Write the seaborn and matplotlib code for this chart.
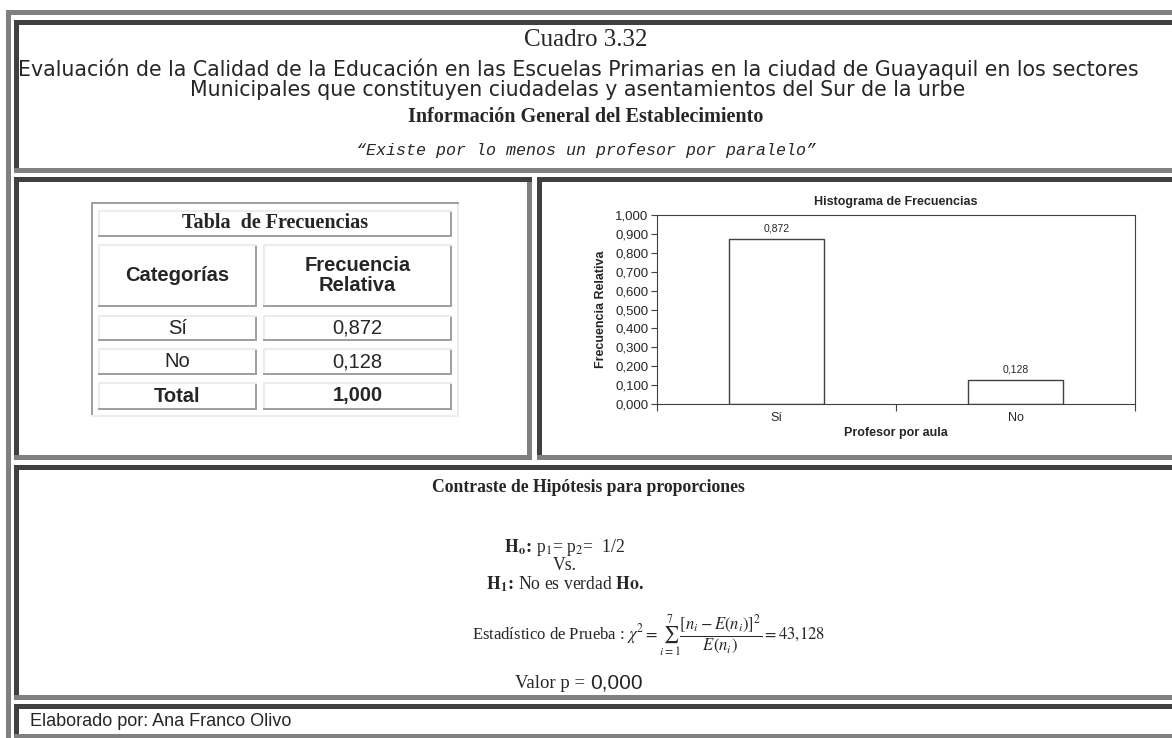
import matplotlib
matplotlib.use('Agg')
import matplotlib.pyplot as plt
from matplotlib.patches import Rectangle
from matplotlib.ticker import MultipleLocator, FuncFormatter
import seaborn as sns
import pandas as pd

# datos del cuadro
categorias = ['Sí', 'No']
frecuencia_relativa = [0.872, 0.128]
total = 1.000
estadistico = 43.128
valor_p = 0.000

titulo = 'Cuadro 3.32'
subtitulo_1 = ('Evaluación de la Calidad de la Educación en las Escuelas Primarias '
               'en la ciudad de Guayaquil en los sectores')
subtitulo_2 = 'Municipales que constituyen ciudadelas y asentamientos del Sur de la urbe'
seccion = 'Información General del Establecimiento'
pregunta = '“Existe por lo menos un profesor por paralelo”'
autor = 'Elaborado por: Ana Franco Olivo'


def coma(v):
    return f'{v:.3f}'.replace('.', ',')


W, H = 1172, 738
oscuro = '#404040'
gris = '#808080'

sns.set_theme(style='white')
plt.rcParams['font.family'] = ['Liberation Sans', 'DejaVu Sans']
plt.rcParams['mathtext.fontset'] = 'stix'

fig = plt.figure(figsize=(W / 100, H / 100), dpi=100)
fig.patch.set_facecolor('white')

# capa de fondo en pixeles (origen arriba a la izquierda)
bg = fig.add_axes([0, 0, 1, 1])
bg.set_xlim(0, W)
bg.set_ylim(H, 0)
bg.axis('off')


def rect(x0, y0, x1, y1, c):
    bg.add_patch(Rectangle((x0, y0), x1 - x0, y1 - y0, color=c, lw=0))


def celda(x0, y0, x1, y1, b=5, arriba=oscuro, abajo=gris):
    rect(x0, y0, x0 + b, y1, arriba)
    rect(x1 - b, y0, x1, y1, abajo)
    rect(x0, y0, x1, y0 + b, arriba)
    rect(x0, y1 - b, x1, y1, abajo)


# marco exterior
rect(6, 10, W + 10, 15, gris)
rect(6, 10, 11, H + 10, gris)

# celdas
celda(14, 20, W + 10, 173)
celda(14, 177, 532, 460)
celda(537, 177, W + 10, 460)
celda(14, 465, W + 10, 700)
celda(14, 704, W + 10, H + 1)

# encabezado
bg.text(586, 40, titulo, ha='center', va='center', fontsize=18, family='Liberation Serif')
s1 = bg.text(578, 69, subtitulo_1, ha='center', va='center', fontsize=13, family='DejaVu Sans')
s2 = bg.text(578, 90, subtitulo_2, ha='center', va='center', fontsize=13, family='DejaVu Sans')
# ajustar el tamaño para que la primera linea ocupe todo el ancho
r = fig.canvas.get_renderer()
k = 1123 / s1.get_window_extent(r).width
s1.set_fontsize(13 * k)
s2.set_fontsize(13 * k)
bg.text(586, 117, seccion, ha='center', va='center', fontsize=14.5,
        family='Liberation Serif', weight='bold')
bg.text(586, 150, pregunta, ha='center', va='center', fontsize=12,
        family='Liberation Mono', style='italic')

# tabla de frecuencias
claro = '#ececec'
medio = '#a0a0a0'
celda(91, 202, 459, 417, b=2, arriba=medio, abajo=claro)


def celda_tabla(x0, y0, x1, y1, texto, **kw):
    celda(x0, y0, x1, y1, b=2, arriba=claro, abajo=medio)
    bg.text((x0 + x1) / 2, (y0 + y1) / 2, texto, ha='center', va='center', **kw)


filas = [['Categorías', 'Frecuencia\nRelativa']]
filas += [[c, coma(v)] for c, v in zip(categorias, frecuencia_relativa)]
filas += [['Total', coma(total)]]
alturas = [(244, 307), (315, 341), (348, 375), (382, 410)]
negrita = [True, False, False, True]

celda_tabla(98, 210, 452, 237, 'Tabla  de Frecuencias', fontsize=14.5,
            family='Liberation Serif', weight='bold')
for fila, (y0, y1), nb in zip(filas, alturas, negrita):
    w = 'bold' if nb else 'normal'
    celda_tabla(98, y0, 257, y1, fila[0], fontsize=14.5, weight=w, linespacing=1.1)
    celda_tabla(263, y0, 452, y1, fila[1], fontsize=14.5, weight=w, linespacing=1.1)

# histograma
ax = fig.add_axes([657 / W, 1 - 404 / H, (1135 - 657) / W, (404 - 215) / H])
df = pd.DataFrame({'Profesor por aula': categorias,
                   'Frecuencia Relativa': frecuencia_relativa})
sns.barplot(data=df, x='Profesor por aula', y='Frecuencia Relativa', ax=ax,
            width=0.4, color='white', saturation=1, edgecolor=oscuro, linewidth=1)
ax.bar_label(ax.containers[0], labels=[coma(v) for v in frecuencia_relativa],
             padding=4, fontsize=7.5)
ax.set_xlim(-0.5, 1.5)
ax.set_ylim(0, 1)
ax.yaxis.set_major_locator(MultipleLocator(0.1))
ax.yaxis.set_major_formatter(FuncFormatter(lambda v, p: coma(v)))
ax.set_xticks([-0.5, 0.5, 1.5])
ax.set_xticklabels([])
ax.set_xticks([0, 1], categorias, minor=True)
ax.tick_params(axis='x', which='major', direction='out', length=5, width=0.8,
               color=oscuro, bottom=True)
ax.tick_params(axis='x', which='minor', length=0, labelsize=9, pad=6)
ax.tick_params(axis='y', direction='out', length=4, width=0.8, color=oscuro,
               left=True, labelsize=9.5, pad=2)
for s in ax.spines.values():
    s.set_visible(True)
    s.set_color(oscuro)
    s.set_linewidth(0.8)
ax.set_xlabel('Profesor por aula', fontsize=9, weight='bold', labelpad=2)
ax.set_ylabel('Frecuencia Relativa', fontsize=9, weight='bold', labelpad=6)
ax.set_title('Histograma de Frecuencias', fontsize=9, weight='bold', pad=7)

# contraste de hipotesis
serif = dict(family='Liberation Serif', fontsize=12.7)
bg.text(588, 488, 'Contraste de Hipótesis para proporciones', ha='center', va='center',
        weight='bold', **serif)
bg.text(565, 547, r'$\mathbf{H_o}\!\mathbf{:}\!$ p$_1$= p$_2$=  1/2', ha='center',
        va='center', **serif)
bg.text(565, 565, 'Vs.', ha='center', va='center', **serif)
bg.text(565, 584, r'$\mathbf{H_1}\!\mathbf{:}\!$ No es verdad $\mathbf{Ho.}$',
        ha='center', va='center', **serif)
bg.text(472, 636, 'Estadístico de Prueba : '
        + r'$\chi^2=\sum_{i=1}^{7}\dfrac{\left[n_i-E\left(n_i\right)\right]^2}'
        + r'{E\left(n_i\right)}=' + coma(estadistico).replace(',', '{,}') + '$',
        ha='left', va='center', family='Liberation Serif', fontsize=12)
t = bg.text(515, 683, 'Valor p = ', ha='left', va='center', family='Liberation Serif',
            fontsize=13.5)
bg.annotate(coma(valor_p), xy=(1, 0.5), xycoords=t, ha='left', va='center',
            fontsize=15, family='Liberation Sans')

# pie
bg.text(30, 722, autor, ha='left', va='center', fontsize=13)

fig.savefig('out.png', dpi=100, facecolor='white')
